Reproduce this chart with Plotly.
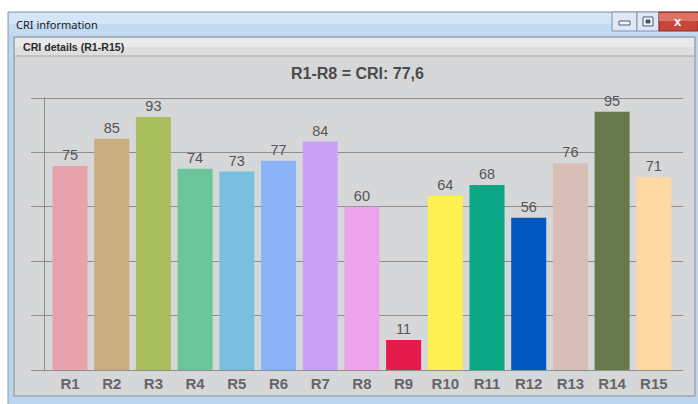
import plotly.graph_objects as go

# CRI special colour rendering indices R1..R15
categories = ["R1", "R2", "R3", "R4", "R5", "R6", "R7", "R8",
              "R9", "R10", "R11", "R12", "R13", "R14", "R15"]
values = [75, 85, 93, 74, 73, 77, 84, 60, 11, 64, 68, 56, 76, 95, 71]
bar_colors = ["#e8a2ac", "#c9ac7f", "#a9bf5e", "#6cc49b", "#7abfde",
              "#8bb3f7", "#c9a2f7", "#eea2ec", "#e51c4b", "#fdf052",
              "#0ba784", "#0057c0", "#d9bdb7", "#687a4c", "#fed9a4"]

# General CRI (Ra) is the mean of R1..R8
ra = sum(values[:8]) / 8
title_text = "R1-R8 = CRI: " + f"{ra:.1f}".replace(".", ",")

W, H = 698, 404
L, R, T, B = 45, 15, 97, 34
PW, PH = W - L - R, H - T - B


def px(x):
    return (x - L) / PW


def py(y):
    return (H - B - y) / PH


def rect(x0, y0, x1, y1, fill, line=None, lw=0, layer="below"):
    return dict(type="rect", xref="paper", yref="paper",
                x0=px(x0), x1=px(x1), y0=py(y1), y1=py(y0),
                fillcolor=fill, line=dict(color=line or fill, width=lw),
                layer=layer)


shapes = [
    # outer window frame
    rect(8, 12, 710, 410, "#bcd6f0", "#8a9bb0", 1),
    # title bar gradient imitation
    rect(9, 13, 710, 24, "#d3e5f7"),
    rect(9, 24, 710, 35, "#c2dbf3"),
    # inner panel
    rect(14, 37, 695, 396, "#d6d7d9", "#8c8c8c", 1),
    # panel header
    rect(15, 38, 694, 47, "#eaeaea"),
    rect(15, 47, 694, 56, "#dedede"),
    dict(type="line", xref="paper", yref="paper", x0=px(15), x1=px(694),
         y0=py(56), y1=py(56), line=dict(color="#a8a8a8", width=1),
         layer="below"),
    # caption buttons
    rect(612, 12, 637, 31, "#dfe9f5", "#8193a8", 1),
    rect(637, 12, 659, 31, "#dfe9f5", "#8193a8", 1),
    rect(659, 12, 698, 31, "#c9473a", "#8c2a22", 1),
    rect(659, 13, 698, 21, "#dc7466"),
    rect(619, 21, 630, 25, "#f4f7fb", "#4d5b6e", 1, "above"),
    rect(643, 17, 653, 26, "#f4f7fb", "#4d5b6e", 1, "above"),
    rect(646, 20, 650, 23, "#4d5b6e", "#4d5b6e", 1, "above"),
]

annotations = [
    dict(text="CRI information", xref="paper", yref="paper",
         x=px(14), y=py(24), xanchor="left", yanchor="middle",
         showarrow=False, font=dict(family="Noto Sans", size=11,
                                    color="#1a1a1a")),
    dict(text="<b>CRI details (R1-R15)</b>", xref="paper", yref="paper",
         x=px(21), y=py(47), xanchor="left", yanchor="middle",
         showarrow=False, font=dict(family="Liberation Sans", size=10.6,
                                    color="#2a2a2a")),
    dict(text="<b>x</b>", xref="paper", yref="paper",
         x=px(678), y=py(21), xanchor="center", yanchor="middle",
         showarrow=False, font=dict(family="Liberation Sans", size=13,
                                    color="#ffffff")),
    dict(text="<b>" + title_text + "</b>", xref="paper", yref="paper",
         x=px(357), y=py(73), xanchor="center", yanchor="middle",
         showarrow=False, font=dict(family="Liberation Sans", size=16,
                                    color="#4a4a4a")),
]

fig = go.Figure(go.Bar(
    x=categories, y=values,
    marker=dict(color=bar_colors, line=dict(width=0)),
    width=0.84,
    text=[str(v) for v in values], textposition="outside",
    textfont=dict(family="Liberation Sans", size=14.5, color="#555555"),
    cliponaxis=False, hoverinfo="skip",
))

fig.update_layout(
    width=W, height=H,
    margin=dict(l=L, r=R, t=T, b=B, pad=0),
    paper_bgcolor="#ffffff", plot_bgcolor="rgba(0,0,0,0)",
    showlegend=False, shapes=shapes, annotations=annotations,
    xaxis=dict(range=[-0.6, 14.7], showgrid=False, showline=True,
               linecolor="#8e8e8e", linewidth=1,
               zeroline=False, ticks="", fixedrange=True,
               tickfont=dict(family="Liberation Sans", size=15,
                             color="#666666", weight="bold")),
    yaxis=dict(range=[0, 100.4], dtick=20, showgrid=True,
               gridcolor="#8e8e8e", gridwidth=1, showline=True,
               linecolor="#8e8e8e", linewidth=1, ticks="outside",
               ticklen=13, tickcolor="#8e8e8e", showticklabels=False,
               zeroline=False, fixedrange=True),
)

fig.write_html("out.html")
